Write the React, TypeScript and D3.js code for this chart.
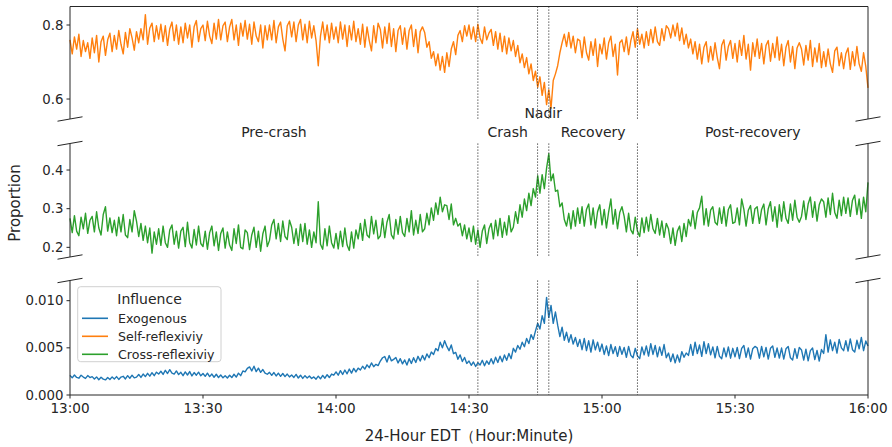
import React from 'react';
import * as d3 from 'd3';

const W = 892;
const H = 447;

// samples every 30 s from 13:00 to 16:00
// self-reflexivity, thousandths
const selfRaw = [
  760, 722, 768, 735, 775, 715, 758, 728, 752, 710,
  765, 725, 772, 700, 755, 770, 718, 760, 778, 728,
  772, 735, 785, 748, 722, 780, 740, 790, 765, 732,
  782, 752, 790, 760, 828, 748, 792, 805, 755, 798,
  762, 802, 755, 798, 745, 790, 808, 758, 800, 748,
  795, 752, 805, 765, 800, 740, 795, 812, 755, 790,
  800, 758, 810, 770, 750, 805, 762, 815, 760, 798,
  808, 755, 795, 815, 760, 800, 745, 805, 770, 812,
  762, 802, 748, 808, 770, 755, 800, 738, 798, 760,
  800, 760, 812, 752, 795, 808, 762, 730, 798, 810,
  768, 808, 755, 800, 815, 760, 802, 752, 810, 765,
  798, 758, 690, 770, 808, 760, 800, 752, 805, 762,
  795, 752, 808, 762, 800, 742, 798, 760, 810, 755,
  790, 748, 802, 740, 795, 758, 730, 798, 752, 805,
  788, 738, 795, 750, 805, 742, 790, 728, 785, 798,
  748, 792, 735, 785, 800, 742, 788, 725, 782, 795,
  780, 740, 755, 710, 728, 690, 722, 678, 715, 672,
  725, 688, 735, 755, 720, 772, 785, 755, 798, 770,
  800, 762, 795, 755, 802, 765, 750, 795, 760, 778,
  788, 745, 782, 735, 778, 728, 770, 722, 765, 730,
  758, 715, 745, 698, 722, 685, 712, 668, 695, 650,
  675, 632, 660, 610, 645, 585, 625, 575, 650, 668,
  690, 725, 752, 775, 742, 780, 738, 770, 725, 762,
  758, 712, 768, 725, 705, 755, 718, 762, 688, 748,
  722, 765, 708, 752, 770, 715, 748, 665, 752, 760,
  728, 768, 720, 758, 782, 740, 790, 748, 775, 738,
  782, 745, 788, 752, 795, 755, 745, 790, 758, 798,
  790, 765, 800, 770, 805, 758, 792, 748, 775, 738,
  762, 722, 755, 708, 748, 695, 740, 755, 700, 742,
  705, 752, 712, 682, 745, 760, 705, 742, 758, 710,
  750, 700, 758, 718, 772, 708, 748, 678, 752, 715,
  762, 710, 750, 695, 745, 758, 702, 750, 712, 768,
  705, 748, 690, 740, 758, 700, 742, 682, 738, 752,
  735, 692, 745, 705, 758, 688, 738, 700, 750, 685,
  728, 688, 735, 695, 672, 730, 740, 690, 725, 682,
  722, 738, 680, 728, 690, 742, 695, 675, 725, 688,
  630,
];

// cross-reflexivity, thousandths
const crossRaw = [
  275, 238, 282, 242, 230, 278, 248, 288, 236, 270,
  280, 240, 292, 250, 232, 285, 305, 242, 276, 238,
  270, 230, 278, 240, 285, 232, 225, 272, 240, 295,
  268, 228, 262, 218, 255, 212, 250, 185, 240, 208,
  248, 205, 255, 212, 200, 245, 258, 208, 242, 198,
  242, 252, 202, 265, 212, 198, 246, 206, 255, 210,
  202, 242, 195, 238, 255, 204, 240, 192, 236, 250,
  198, 240, 206, 192, 248, 210, 258, 200, 196, 245,
  238, 194, 232, 252, 200, 242, 190, 235, 255, 202,
  218, 258, 272, 222, 262, 215, 268, 228, 220, 270,
  252, 210, 248, 205, 260, 215, 262, 208, 245, 200,
  240, 212, 318, 208, 195, 248, 204, 255, 212, 198,
  236, 196, 242, 202, 250, 206, 192, 240, 198, 245,
  222, 262, 218, 272, 232, 225, 280, 235, 270, 222,
  230, 275, 225, 265, 285, 232, 222, 272, 234, 280,
  238, 228, 275, 240, 295, 232, 270, 236, 285, 240,
  248, 288, 258, 302, 270, 315, 285, 330, 292, 310,
  308, 272, 312, 258, 275, 255, 262, 230, 258, 222,
  250, 215, 255, 208, 245, 200, 242, 258, 210, 248,
  262, 222, 270, 230, 275, 226, 265, 232, 282, 240,
  252, 292, 262, 310, 278, 325, 295, 340, 308, 352,
  330, 385, 340, 388, 352, 405, 442, 372, 390, 345,
  348, 305, 315, 272, 255, 288, 248, 295, 255, 302,
  262, 305, 255, 298, 312, 258, 302, 250, 292, 310,
  258, 298, 250, 292, 325, 260, 298, 248, 290, 305,
  280, 240, 288, 245, 235, 278, 242, 228, 276, 238,
  278, 242, 285, 248, 236, 275, 232, 268, 226, 262,
  248, 210, 250, 205, 242, 255, 215, 262, 228, 272,
  255, 295, 248, 290, 302, 332, 258, 300, 255, 296,
  305, 265, 258, 302, 262, 305, 255, 298, 310, 262,
  265, 302, 258, 325, 298, 255, 296, 308, 262, 300,
  305, 262, 298, 312, 258, 300, 318, 268, 305, 252,
  310, 268, 318, 275, 262, 312, 270, 322, 278, 265,
  280, 320, 272, 312, 330, 278, 318, 268, 310, 325,
  318, 278, 328, 285, 340, 290, 275, 322, 282, 330,
  288, 328, 280, 322, 335, 285, 325, 275, 330, 292,
  368,
];

// exogenous, units of 1e-5
const exoRaw = [
  208, 182, 212, 186, 178, 210, 190, 176, 206, 185,
  195, 170, 192, 162, 188, 168, 160, 186, 165, 192,
  170, 195, 165, 190, 198, 170, 205, 178, 210, 182,
  190, 218, 186, 222, 195, 230, 200, 236, 205, 242,
  222, 252, 218, 262, 228, 268, 232, 222, 255, 216,
  240, 205, 245, 212, 248, 202, 238, 210, 242, 204,
  228, 198, 232, 195, 222, 188, 220, 185, 212, 182,
  205, 180, 210, 185, 220, 190, 232, 205, 255, 245,
  282, 298, 255, 305, 248, 285, 240, 270, 232, 220,
  240, 208, 238, 202, 232, 198, 228, 195, 222, 192,
  212, 186, 218, 180, 210, 176, 205, 180, 202, 175,
  192, 168, 200, 172, 208, 178, 215, 185, 222, 210,
  245, 210, 258, 218, 265, 225, 275, 232, 282, 245,
  285, 265, 305, 275, 320, 290, 340, 300, 325, 312,
  360, 395, 408, 350, 418, 362, 378, 398, 340, 385,
  330, 372, 318, 385, 335, 395, 345, 410, 360, 420,
  372, 435, 395, 455, 430, 492, 468, 560, 500, 575,
  515, 470, 530, 438, 452, 380, 425, 355, 398, 335,
  360, 315, 350, 302, 342, 318, 368, 310, 362, 325,
  385, 330, 400, 345, 412, 352, 425, 368, 440, 385,
  495, 455, 525, 485, 560, 512, 600, 545, 640, 590,
  680, 760, 700, 840, 760, 1035, 820, 950, 760, 880,
  740, 620, 720, 580, 665, 560, 640, 540, 610, 515,
  590, 480, 600, 470, 575, 455, 585, 478, 560, 462,
  540, 430, 520, 418, 535, 440, 512, 410, 515, 432,
  505, 400, 515, 420, 395, 495, 415, 385, 510, 425,
  520, 412, 545, 430, 525, 405, 510, 420, 535, 395,
  445, 355, 435, 340, 425, 350, 460, 400, 445, 420,
  535, 420, 560, 440, 530, 410, 565, 440, 545, 425,
  510, 395, 515, 410, 385, 500, 405, 510, 390, 495,
  405, 505, 385, 495, 525, 400, 500, 380, 490, 515,
  500, 390, 515, 405, 505, 380, 495, 520, 400, 498,
  392, 498, 380, 490, 515, 395, 372, 492, 388, 505,
  478, 370, 485, 362, 470, 498, 375, 472, 360, 482,
  440, 640, 455, 585, 470, 560, 445, 590, 500, 470,
  575, 465, 595, 480, 455, 580, 490, 610, 470, 572,
  520,
];

const selfReflexivity = selfRaw.map(v => v / 1000);
const crossReflexivity = crossRaw.map(v => v / 1000);
const exogenous = exoRaw.map(v => v / 100000);

const STEP_MIN = 0.5;
const xTickMinutes = [0, 30, 60, 90, 120, 150, 180];
const xTickLabels = ['13:00', '13:30', '14:00', '14:30', '15:00', '15:30', '16:00'];
const eventMinutes = [92, 105.47, 108, 128];
const phaseNames = ['Pre-crash', 'Crash', 'Nadir', 'Recovery', 'Post-recovery'];
const legendNames = ['Exogenous', 'Self-reflexiviy', 'Cross-reflexiviy'];

const BLUE = '#1f77b4';
const ORANGE = '#ff7f0e';
const GREEN = '#2ca02c';
const FONT = 'DejaVu Sans, sans-serif';
const INK = '#262626';

const LEFT = 70;
const RIGHT = 868;

const panels = [
  { values: selfReflexivity, color: ORANGE, domain: [0.546, 0.85], range: [119, 6.5], ticks: [0.6, 0.8], fmt: '.1f', top: true, bottom: false },
  { values: crossReflexivity, color: GREEN, domain: [0.175, 0.4686], range: [257, 143.5], ticks: [0.2, 0.3, 0.4], fmt: '.1f', top: false, bottom: false },
  { values: exogenous, color: BLUE, domain: [0, 0.01214], range: [395, 280.5], ticks: [0, 0.005, 0.01], fmt: '.3f', top: false, bottom: true },
];

export default function App() {
  const x = d3.scaleLinear().domain([0, 180]).range([LEFT, RIGHT]);
  const bounds = [0, ...eventMinutes, 180];

  return (
    <svg width={W} height={H} style={{ position: 'absolute', left: 0, top: 0, background: '#fff' }} fontFamily={FONT}>
      {panels.map((p, pi) => {
        const y = d3.scaleLinear().domain(p.domain).range(p.range);
        const line = d3.line<number>().x((d, i) => x(i * STEP_MIN)).y(d => y(d));
        const fmt = d3.format(p.fmt);
        const yTop = p.range[1];
        const yBot = p.range[0];
        const breaks: number[] = [];
        if (!p.top) breaks.push(yTop);
        if (!p.bottom) breaks.push(yBot);
        return (
          <g key={pi}>
            <path d={line(p.values) || ''} fill="none" stroke={p.color} strokeWidth={1.4} strokeLinejoin="round" />
            {eventMinutes.map((m, i) => (
              <line key={i} x1={x(m)} x2={x(m)} y1={yTop} y2={yBot} stroke="#333" strokeWidth={1} strokeDasharray="1.2,1.8" />
            ))}
            <line x1={LEFT} x2={LEFT} y1={yTop} y2={yBot} stroke={INK} strokeWidth={1} />
            <line x1={RIGHT} x2={RIGHT} y1={yTop} y2={yBot} stroke={INK} strokeWidth={1} />
            {p.top && <line x1={LEFT} x2={RIGHT} y1={yTop} y2={yTop} stroke={INK} strokeWidth={1} />}
            {p.bottom && <line x1={LEFT} x2={RIGHT} y1={yBot} y2={yBot} stroke={INK} strokeWidth={1} />}
            {breaks.map((by, i) => (
              <g key={i}>
                {[LEFT, RIGHT].map(bx => (
                  <line key={bx} x1={bx - 12.5} x2={bx + 12.5} y1={by + 2.2} y2={by - 2.2} stroke={INK} strokeWidth={1} />
                ))}
              </g>
            ))}
            {p.ticks.map(t => (
              <g key={t}>
                <line x1={LEFT - 3.5} x2={LEFT} y1={y(t)} y2={y(t)} stroke={INK} strokeWidth={1} />
                <text x={LEFT - 6.5} y={y(t)} dy="0.35em" textAnchor="end" fontSize={13.3} fill={INK}>{fmt(t)}</text>
              </g>
            ))}
          </g>
        );
      })}

      {xTickMinutes.map((m, i) => (
        <g key={m}>
          <line x1={x(m)} x2={x(m)} y1={395} y2={398.5} stroke={INK} strokeWidth={1} />
          <text x={x(m)} y={413} textAnchor="middle" fontSize={13.6} fill={INK}>{xTickLabels[i]}</text>
        </g>
      ))}

      {phaseNames.map((name, i) => (
        <text key={name} x={x((bounds[i] + bounds[i + 1]) / 2)} y={name === 'Nadir' ? 117.5 : 136.5}
          textAnchor="middle" fontSize={14} fill={INK}>{name}</text>
      ))}

      <text transform={`translate(20,203) rotate(-90)`} textAnchor="middle" fontSize={15} fill={INK}>Proportion</text>
      <text x={469} y={441} textAnchor="middle" fontSize={15} fill={INK}>24-Hour EDT（Hour:Minute)</text>

      <g>
        <rect x={77.7} y={286.7} width={143.3} height={75} rx={3} fill="#fff" fillOpacity={0.8} stroke="#d0d0d0" strokeWidth={1} />
        <text x={149.5} y={304} textAnchor="middle" fontSize={14} fill={INK}>Influence</text>
        {legendNames.map((name, i) => (
          <g key={name}>
            <line x1={82} x2={108} y1={318.3 + i * 18} y2={318.3 + i * 18} stroke={[BLUE, ORANGE, GREEN][i]} strokeWidth={1.6} />
            <text x={118} y={318.3 + i * 18} dy="0.35em" fontSize={12.6} fill={INK}>{name}</text>
          </g>
        ))}
      </g>
    </svg>
  );
}
